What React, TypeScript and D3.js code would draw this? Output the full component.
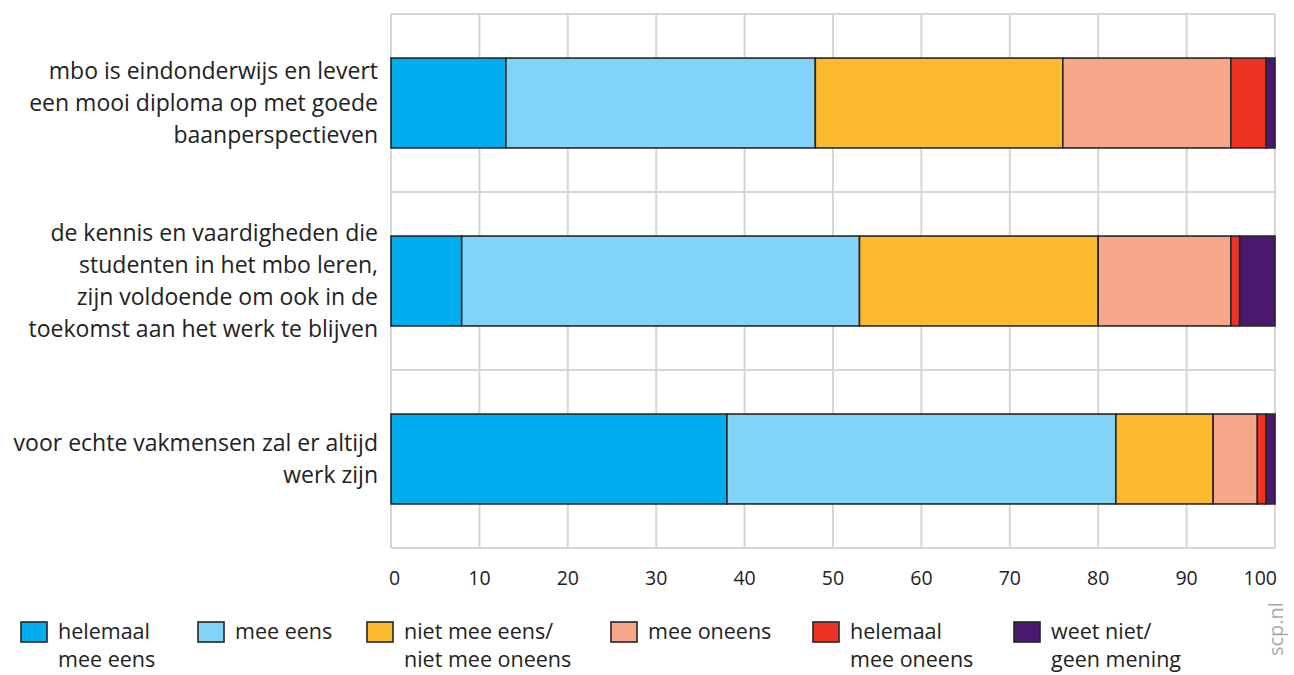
import React, { useEffect, useRef } from "react";
import * as d3 from "d3";

const categories: string[][] = [
  ["mbo is eindonderwijs en levert", "een mooi diploma op met goede", "baanperspectieven"],
  ["de kennis en vaardigheden die", "studenten in het mbo leren,", "zijn voldoende om ook in de", "toekomst aan het werk te blijven"],
  ["voor echte vakmensen zal er altijd", "werk zijn"],
];
const seriesNames: string[][] = [
  ["helemaal", "mee eens"],
  ["mee eens"],
  ["niet mee eens/", "niet mee oneens"],
  ["mee oneens"],
  ["helemaal", "mee oneens"],
  ["weet niet/", "geen mening"],
];
const seriesColors = ["#00adef", "#81d4f7", "#fcba2f", "#f7a78a", "#ee3224", "#4a186c"];
const helemaalMeeEens = [13, 8, 38];
const meeEens = [35, 45, 44];
const neutraal = [28, 27, 11];
const meeOneens = [19, 15, 5];
const helemaalMeeOneens = [4, 1, 1];
const weetNiet = [1, 4, 1];
const tickValues = [0, 10, 20, 30, 40, 50, 60, 70, 80, 90, 100];
const legendX = [20, 197, 366, 610, 812, 1013];

const W = 1294;
const H = 675;

export default function App() {
  const ref = useRef<SVGSVGElement>(null);
  useEffect(() => {
    const svg = d3.select(ref.current);
    svg.selectAll("*").remove();
    const font = "'Open Sans', 'Noto Sans', sans-serif";
    const left = 391, right = 1275, top = 14, bottom = 548;
    const x = d3.scaleLinear().domain([0, 100]).range([left, right]);
    const y = d3.scaleBand<number>().domain([0, 1, 2]).range([top, bottom]).paddingInner(0).paddingOuter(0);
    const series = [helemaalMeeEens, meeEens, neutraal, meeOneens, helemaalMeeOneens, weetNiet];

    const grid = svg.append("g");
    tickValues.forEach((t) => {
      grid.append("line").attr("x1", x(t)).attr("x2", x(t)).attr("y1", top).attr("y2", bottom)
        .attr("stroke", "#d6d6d6").attr("stroke-width", 2);
    });
    [0, 1, 2].forEach((i) => {
      grid.append("line").attr("x1", left).attr("x2", right).attr("y1", y(i)!).attr("y2", y(i)!)
        .attr("stroke", "#d6d6d6").attr("stroke-width", 2);
    });
    grid.append("line").attr("x1", left).attr("x2", right).attr("y1", bottom).attr("y2", bottom)
      .attr("stroke", "#d6d6d6").attr("stroke-width", 2);

    const bh = y.bandwidth() * 0.505;
    categories.forEach((_, ci) => {
      let acc = 0;
      const cy = y(ci)! + y.bandwidth() / 2;
      series.forEach((s, si) => {
        const v = s[ci];
        svg.append("rect").attr("x", x(acc)).attr("y", cy - bh / 2)
          .attr("width", x(acc + v) - x(acc)).attr("height", bh)
          .attr("fill", seriesColors[si]).attr("stroke", "#262626").attr("stroke-width", 1.6);
        acc += v;
      });
    });

    categories.forEach((lines, ci) => {
      const cy = y(ci)! + y.bandwidth() / 2;
      const lh = 32;
      lines.forEach((ln, li) => {
        svg.append("text").attr("text-anchor", "end").attr("font-family", font)
          .attr("font-size", 23).attr("fill", "#222")
          .attr("x", 378).attr("y", cy + (li - (lines.length - 1) / 2) * lh + 8).text(ln);
      });
    });

    tickValues.forEach((tv, i) => {
      const last = i === tickValues.length - 1;
      const first = i === 0;
      svg.append("text")
        .attr("x", first ? x(tv) - 2 : last ? x(tv) + 2 : x(tv))
        .attr("y", 585)
        .attr("text-anchor", first ? "start" : last ? "end" : "middle")
        .attr("font-family", font).attr("font-size", 19.5).attr("fill", "#222").text(String(tv));
    });

    seriesNames.forEach((lines, i) => {
      const lx = legendX[i];
      svg.append("rect").attr("x", lx + 1).attr("y", 622).attr("width", 26).attr("height", 20)
        .attr("fill", seriesColors[i]).attr("stroke", "#262626").attr("stroke-width", 1.6);
      lines.forEach((ln, li) => {
        svg.append("text").attr("font-family", font).attr("font-size", 21.5).attr("fill", "#222")
          .attr("x", lx + 38).attr("y", 639 + li * 28).text(ln);
      });
    });

    svg.append("text").attr("transform", "translate(1283,656) rotate(-90)")
      .attr("font-family", font).attr("font-size", 20).attr("fill", "#aaa").text("scp.nl");
  }, []);
  return (
    <div style={{ position: "absolute", left: 0, top: 0 }}>
      <svg ref={ref} width={W} height={H} style={{ display: "block", background: "#fff" }} />
    </div>
  );
}
